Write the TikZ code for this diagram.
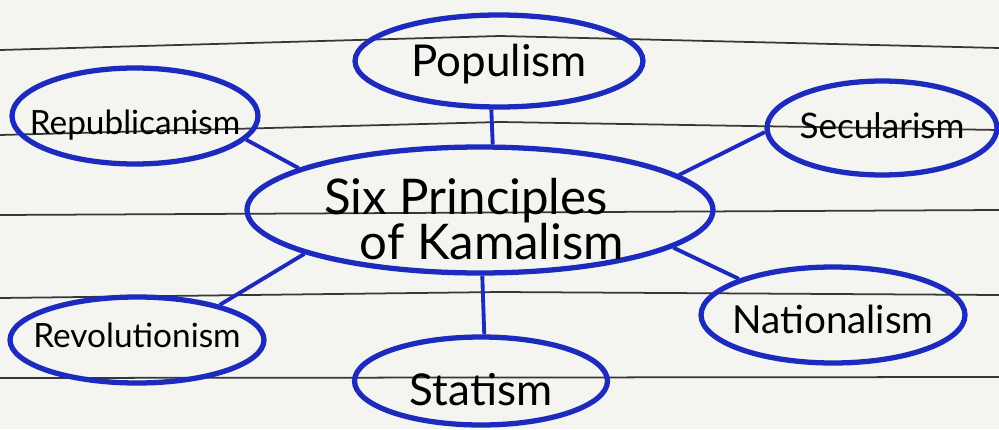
\documentclass[tikz,border=0pt]{standalone}
\usepackage{fontspec}
\setmainfont{Lato}
\usepackage{tikz}
\usetikzlibrary{
  shapes.geometric,
  backgrounds
}
\usepackage{xcolor}
\definecolor{inkblue}{RGB}{28,42,190}
\definecolor{paper}{RGB}{244,244,241}
\definecolor{ruleg}{RGB}{55,55,55}
%% label with no size of its own, lowered by #1
\newcommand{\thin}[2][0cm]{%
  \raisebox{-0.3em}[0pt][0pt]{\raisebox{-#1}{\makebox[0pt][c]{#2}}}}
\tikzset{
  bubble/.style={
    ellipse, draw=inkblue, line width=3pt,
    inner sep=0pt, align=center, text=black
  },
  link/.style={
    draw=inkblue, line width=2.2pt
  },
  ruling/.style={
    draw=ruleg, line width=1pt
  }
}

\begin{document}
\begin{tikzpicture}[x=0.02cm, y=-0.02cm]

    %% Paper
    \fill[paper] (0,0) rectangle (999,429);
    \useasboundingbox (0,0) rectangle (999,429);

    %% Ruled lines
    \draw[ruling] (0,50)--(500,36)--(999,48);
    \draw[ruling] (0,135)--(500,122)--(999,130);
    \draw[ruling] (0,215)--(999,210);
    \draw[ruling] (0,298)--(500,292)--(999,295);
    \draw[ruling] (0,378)--(999,377);

    %% Centre
    \node[bubble, minimum width=9.32cm, minimum height=2.52cm,
      font=\fontsize{28}{25.5}\selectfont] (six) at (480,210)
      {\thin[0.24cm]{Six Principles\hspace*{0.56cm}}\\
       \thin[0.24cm]{\hspace*{0.48cm}of Kamalism}};

    %% Principles
    \node[bubble, minimum width=5.76cm, minimum height=1.84cm,
      font=\fontsize{25}{28}\selectfont] (pop) at (499,61)
      {\thin[0.04cm]{Populism}};
    \node[bubble, minimum width=4.92cm, minimum height=1.92cm,
      font=\fontsize{19}{22}\selectfont] (rep) at (135,116)
      {\thin[0.16cm]{Republicanism}};
    \node[bubble, minimum width=4.6cm, minimum height=1.88cm,
      font=\fontsize{20}{24}\selectfont] (sec) at (882,128)
      {\thin{Secularism}};
    \node[bubble, minimum width=5.08cm, minimum height=1.72cm,
      font=\fontsize{19}{22}\selectfont] (rev) at (137,340)
      {\thin[-0.06cm]{Revolutionism}};
    \node[bubble, minimum width=5.06cm, minimum height=1.76cm,
      font=\fontsize{25}{28}\selectfont] (stat) at (481,381)
      {\thin[0.22cm]{Statism}};
    \node[bubble, minimum width=5.28cm, minimum height=1.92cm,
      font=\fontsize{22}{24}\selectfont] (nat) at (833,315)
      {\thin[0.14cm]{Nationalism}};

    %% Links
    \draw[link] (pop.-99) -- (six.79);
    \draw[link] (rep.-12) -- (six.167);
    \draw[link] (sec.182) -- (six.10);
    \draw[link] (rev.23) -- (six.-166);
    \draw[link] (stat.86) -- (six.-88);
    \draw[link] (nat.159) -- (six.-11);

  \end{tikzpicture}
\end{document}
